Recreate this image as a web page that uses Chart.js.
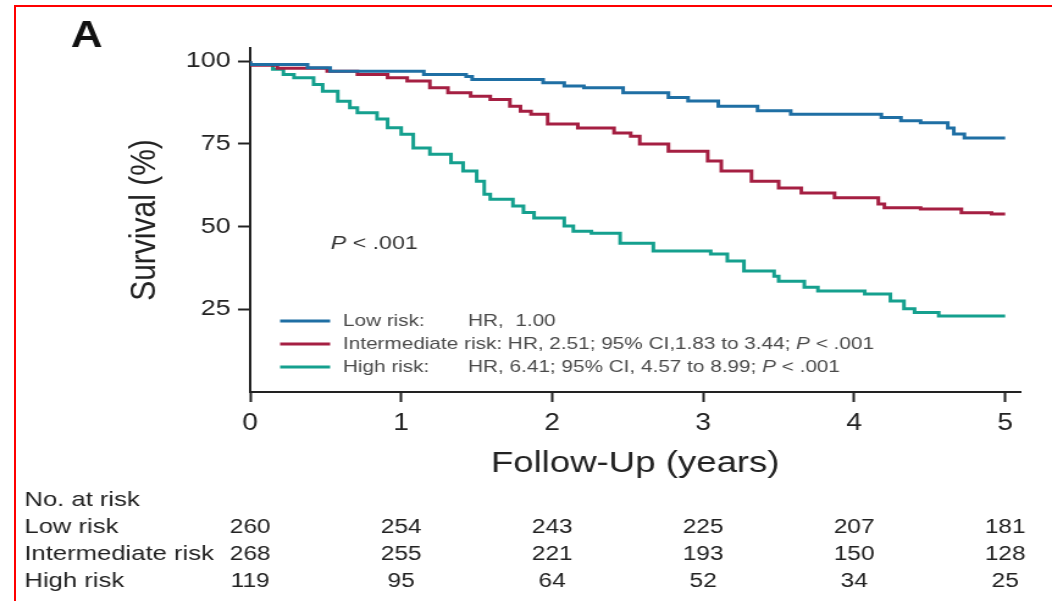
<!DOCTYPE html>
<html>
<head>
<meta charset="utf-8">
<title>Survival by risk group</title>
<script src="https://cdn.jsdelivr.net/npm/chart.js@4.4.1/dist/chart.umd.min.js"></script>
<style>
  html, body { margin: 0; padding: 0; background: #ffffff; overflow: hidden; }
  body { width: 1052px; height: 601px; position: relative; }
  /* the figure is laid out on a narrower canvas and widened to the page */
  #stage { position: absolute; left: 0; top: 0; width: 862px; height: 601px;
           transform: scaleX(1.2204); transform-origin: 0 0; }
  #frame { position: absolute; left: 14px; top: 5px; width: 1100px; height: 700px;
           border: 2px solid #ff0000; box-sizing: border-box; pointer-events: none; }
</style>
</head>
<body>
<div id="stage"><canvas id="km"></canvas></div>
<div id="frame"></div>
<script>
const FONT = "'Liberation Sans', Arial, Helvetica, sans-serif";

// Kaplan-Meier steps: follow-up time (years) and survival (%) after each drop
const lowRiskYears     = [0, 0.38, 0.53, 1.15, 1.43, 1.47, 1.94, 2.08, 2.21, 2.47, 2.77, 2.90, 3.10, 3.36, 3.58, 4.18, 4.31, 4.44, 4.62, 4.66, 4.73, 4.95, 5.00];
const lowRiskSurvival  = [100, 99, 98, 97, 96, 95.4, 94.5, 93.5, 92.5, 92, 90.5, 89, 88, 86.4, 85, 84, 83, 82, 81.4, 79.8, 78, 76.8, 76.8];

const intermediateRiskYears    = [0, 0.18, 0.51, 0.71, 0.91, 1.04, 1.19, 1.31, 1.46, 1.59, 1.72, 1.79, 1.86, 1.97, 2.17, 2.41, 2.52, 2.58, 2.77, 3.03, 3.12, 3.32, 3.50, 3.65, 3.87, 4.16, 4.20, 4.44, 4.71, 4.91, 5.00];
const intermediateRiskSurvival = [100, 98.8, 97.9, 97, 96, 95, 94, 92, 90.5, 89.4, 88.4, 86.4, 84.9, 84, 81, 79.8, 78.3, 77.3, 75, 72.8, 69.8, 66.8, 63.7, 61.7, 60.2, 58.7, 56.8, 55.7, 55.3, 54.2, 53.8];

const highRiskYears    = [0, 0.15, 0.22, 0.29, 0.42, 0.48, 0.58, 0.66, 0.71, 0.84, 0.91, 1.00, 1.08, 1.19, 1.33, 1.41, 1.50, 1.55, 1.59, 1.74, 1.81, 1.88, 2.08, 2.14, 2.26, 2.45, 2.67, 3.05, 3.16, 3.27, 3.47, 3.50, 3.67, 3.76, 4.07, 4.24, 4.33, 4.40, 4.56, 4.76, 5.00];
const highRiskSurvival = [100, 99, 97.6, 96, 95, 93, 90.9, 87.9, 85.9, 84.4, 82.5, 79.9, 77.9, 73.8, 71.9, 69.3, 66.8, 63.7, 59.8, 58.3, 56.2, 54.3, 52.6, 50.2, 48.6, 48, 45, 42.6, 41.7, 39.6, 36.6, 35, 33.5, 31.7, 30.5, 29.6, 27.5, 25.2, 24, 23, 23];

const groupLabels  = ['Low risk:', 'Intermediate risk:', 'High risk:'];
const hazardLabels = ['HR,  1.00',
                      'HR, 2.51; 95% CI,1.83 to 3.44; P < .001',
                      'HR, 6.41; 95% CI, 4.57 to 8.99; P < .001'];
const overallPLabel = 'P < .001';
const panelLetter = 'A';

const xTickValues = [0, 1, 2, 3, 4, 5];
const yTickValues = [25, 50, 75, 100];

// number at risk at each yearly tick
const atRiskTitle  = 'No. at risk';
const atRiskYears  = [0, 1, 2, 3, 4, 5];
const atRiskGroups = ['Low risk', 'Intermediate risk', 'High risk'];
const atRiskLow          = [260, 254, 243, 225, 207, 181];
const atRiskIntermediate = [268, 255, 221, 193, 150, 128];
const atRiskHigh         = [119, 95, 64, 52, 34, 25];

const COLORS = ['#1f6fa4', '#a51f42', '#15a08e'];

function points(xs, ys) { return xs.map((t, i) => ({ x: t, y: ys[i] })); }

// draws a string, setting any "P" that precedes " <" in italics
function drawRich(ctx, text, x, y, size, color) {
  const parts = text.split(/(P(?= <))/);
  let cx = x;
  ctx.fillStyle = color;
  for (const part of parts) {
    if (!part) continue;
    ctx.font = (part === 'P' ? 'italic ' : '') + size + 'px ' + FONT;
    ctx.fillText(part, cx, y);
    cx += ctx.measureText(part).width;
  }
  return cx;
}

const annotations = {
  id: 'kmAnnotations',
  afterDraw(chart) {
    const { ctx, chartArea: area, scales: { x } } = chart;
    ctx.save();
    ctx.textBaseline = 'middle';
    ctx.textAlign = 'left';

    // panel letter
    ctx.fillStyle = '#111111';
    ctx.font = 'bold 36px ' + FONT;
    ctx.fillText(panelLetter, 58, 37);

    // overall log-rank P
    drawRich(ctx, overallPLabel, area.left + 66, area.top + 196, 19, '#333333');

    // legend with hazard ratios
    const rowY = [area.top + 273, area.top + 296, area.top + 319];
    const labelX = area.left + 76;
    const hrColumn = area.left + 178.5;
    ctx.font = '17px ' + FONT;
    const space = ctx.measureText(' ').width;
    groupLabels.forEach((lab, i) => {
      ctx.strokeStyle = COLORS[i];
      ctx.lineWidth = 3;
      ctx.beginPath();
      ctx.moveTo(area.left + 24.5, rowY[i]);
      ctx.lineTo(area.left + 65.5, rowY[i]);
      ctx.stroke();
      const end = drawRich(ctx, lab, labelX, rowY[i], 17, '#4a4a4a');
      drawRich(ctx, hazardLabels[i], Math.max(hrColumn, end + space), rowY[i], 17, '#4a4a4a');
    });

    // number-at-risk table under the axis
    const tableY = [500, 527.5, 554.5, 581];
    const rows = [atRiskLow, atRiskIntermediate, atRiskHigh];
    ctx.fillStyle = '#222222';
    ctx.font = '21px ' + FONT;
    ctx.textAlign = 'left';
    ctx.fillText(atRiskTitle, 20, tableY[0]);
    atRiskGroups.forEach((g, i) => ctx.fillText(g, 20, tableY[i + 1]));
    ctx.textAlign = 'center';
    ctx.font = '20px ' + FONT;
    rows.forEach((vals, i) => {
      vals.forEach((v, j) => ctx.fillText(String(v), x.getPixelForValue(atRiskYears[j]), tableY[i + 1]));
    });
    ctx.restore();
  }
};

const datasetStyle = { borderWidth: 3, pointRadius: 0, stepped: 'after', fill: false, tension: 0 };

new Chart(document.getElementById('km'), {
  type: 'line',
  data: {
    datasets: [
      Object.assign({ label: 'Low risk', data: points(lowRiskYears, lowRiskSurvival), borderColor: COLORS[0] }, datasetStyle),
      Object.assign({ label: 'Intermediate risk', data: points(intermediateRiskYears, intermediateRiskSurvival), borderColor: COLORS[1] }, datasetStyle),
      Object.assign({ label: 'High risk', data: points(highRiskYears, highRiskSurvival), borderColor: COLORS[2] }, datasetStyle)
    ]
  },
  options: {
    responsive: true,
    maintainAspectRatio: false,
    animation: false,
    devicePixelRatio: 1,
    layout: { padding: { left: 0, right: 26, top: 48, bottom: 119 } },
    plugins: { legend: { display: false }, tooltip: { enabled: false } },
    scales: {
      x: {
        type: 'linear', min: 0, max: 5.1,
        afterBuildTicks: s => { s.ticks = xTickValues.map(v => ({ value: v })); },
        afterFit: s => { s.height = 90; },
        ticks: { font: { family: FONT, size: 23 }, color: '#222222', padding: 8, maxRotation: 0 },
        grid: { drawOnChartArea: false, drawTicks: true, tickLength: 10, tickColor: '#222222', tickWidth: 2 },
        border: { color: '#222222', width: 2 },
        title: { display: true, text: 'Follow-Up (years)', color: '#222222',
                 font: { family: FONT, size: 30 }, padding: { top: 0, bottom: 0 } }
      },
      y: {
        type: 'linear', min: 0, max: 104,
        afterBuildTicks: s => { s.ticks = yTickValues.map(v => ({ value: v })); },
        afterFit: s => { s.width = 205; },
        ticks: { font: { family: FONT, size: 22 }, color: '#222222', padding: 6 },
        grid: { drawOnChartArea: false, drawTicks: true, tickLength: 10, tickColor: '#222222', tickWidth: 2 },
        border: { color: '#222222', width: 2 },
        title: { display: true, text: 'Survival (%)', color: '#222222',
                 font: { family: FONT, size: 30 }, padding: { top: 101, bottom: 0 } }
      }
    }
  },
  plugins: [annotations]
});
</script>
</body>
</html>
